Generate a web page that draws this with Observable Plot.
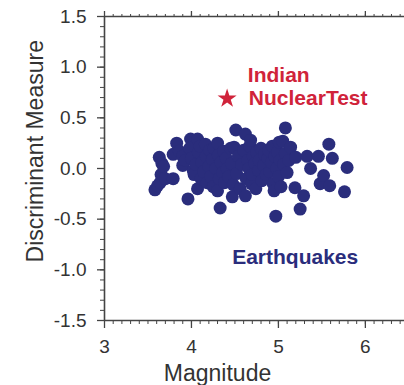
<!DOCTYPE html>
<html>
<head>
<meta charset="utf-8">
<script src="https://cdn.jsdelivr.net/npm/d3@7"></script>
<script src="https://cdn.jsdelivr.net/npm/@observablehq/plot@0.6"></script>
<style>
  html, body { margin: 0; padding: 0; background: #fff; }
  svg { display: block; }
</style>
</head>
<body>
<div id="chart"></div>
<script>
// Earthquake events: magnitude and discriminant measure
const magnitude = [
  3.58,3.61,3.63,3.65,3.66,3.68,3.64,3.70,3.79,3.79,3.83,3.86,3.90,3.90,3.93,3.96,3.99,3.98,4.00,4.02,
  4.03,4.05,4.07,4.07,4.08,4.10,4.11,4.12,4.14,4.16,4.17,4.18,4.20,4.21,4.22,4.24,4.25,4.26,4.28,4.30,
  4.30,4.31,4.32,4.33,4.34,4.36,4.37,4.38,4.40,4.41,4.43,4.45,4.46,4.47,4.48,4.49,4.51,4.52,4.54,4.56,
  4.58,4.60,4.62,4.62,4.63,4.65,4.66,4.67,4.68,4.69,4.70,4.71,4.73,4.74,4.75,4.77,4.78,4.80,4.81,4.83,
  4.84,4.86,4.88,4.89,4.90,4.92,4.93,4.94,4.95,4.96,4.97,4.98,4.99,5.00,5.01,5.02,5.03,5.05,5.06,5.08,
  5.08,5.10,5.12,5.14,5.20,5.19,5.25,5.29,5.33,5.37,5.46,5.48,5.52,5.58,5.59,5.62,5.76,5.79
];
const discriminant = [
  -0.21,-0.17,0.11,-0.06,0.05,0.02,-0.14,-0.10,-0.10,0.14,0.25,0.17,0.12,0.03,0.08,-0.30,0.29,0.20,0.10,-0.02,
  -0.06,0.04,0.29,-0.20,0.16,0.22,-0.10,0.06,-0.03,0.24,0.12,-0.14,0.02,0.18,-0.08,0.09,-0.18,0.20,0.00,0.25,
  -0.22,0.13,-0.10,-0.39,0.06,-0.04,0.17,-0.14,0.10,0.00,-0.08,0.20,0.05,-0.28,-0.16,0.21,0.38,-0.05,0.12,-0.20,
  0.04,0.18,0.34,-0.27,-0.10,0.08,0.00,0.22,0.28,-0.15,-0.06,0.12,0.05,-0.20,0.16,-0.02,0.08,0.20,-0.12,0.03,
  0.14,-0.06,0.10,0.18,-0.03,0.06,0.22,-0.15,-0.22,0.12,-0.47,0.00,0.16,-0.08,0.26,0.08,-0.18,0.27,0.04,0.40,
  0.15,-0.04,0.08,0.21,0.11,-0.19,-0.40,-0.27,0.12,0.00,0.12,-0.15,-0.07,0.24,-0.17,0.10,-0.23,0.01
];

// Nuclear test event
const testMagnitude = [4.41];
const testDiscriminant = [0.69];

// Annotation labels
const labelText = ["Indian", "NuclearTest", "Earthquakes"];
const labelX = [4.648, 4.66, 4.468];
const labelY = [0.92, 0.69, -0.875];
const labelColor = ["#d0233a", "#d0233a", "#2a2d7c"];

// Ticks
const xMajor = [3, 4, 5, 6];
const yMajor = [-1.5, -1.0, -0.5, 0.0, 0.5, 1.0, 1.5];
const xMinor = d3.range(30, 65).map(d => d / 10);
const yMinor = d3.range(-15, 16).map(d => d / 10);

const quakes = magnitude.map((m, i) => ({m, d: discriminant[i]}));
const tests = testMagnitude.map((m, i) => ({m, d: testDiscriminant[i]}));
const labels = labelText.map((t, i) => ({t, x: labelX[i], y: labelY[i], c: labelColor[i]}));

const font = "'Liberation Sans', Arial, Helvetica, sans-serif";
const tickColor = "#444";
const textColor = "#333";

const chart = Plot.plot({
  width: 404,
  height: 385,
  marginLeft: 104,
  marginRight: 0,
  marginTop: 16,
  marginBottom: 65,
  style: {fontFamily: font, background: "#fff", overflow: "hidden"},
  x: {domain: [3, 6.45], axis: null},
  y: {domain: [-1.5, 1.5], axis: null},
  marks: [
    // minor ticks
    Plot.axisX({anchor: "bottom", ticks: xMinor, tickSize: 4, tickFormat: () => "", stroke: tickColor, strokeWidth: 1}),
    Plot.axisX({anchor: "top", ticks: xMinor, tickSize: 3, tickFormat: () => "", stroke: tickColor, strokeWidth: 1}),
    Plot.axisY({anchor: "left", ticks: yMinor, tickSize: 4, tickFormat: () => "", stroke: tickColor, strokeWidth: 1}),
    // major ticks with labels
    Plot.axisX({anchor: "bottom", ticks: xMajor, tickSize: 8, tickPadding: 11, tickFormat: d => String(d),
      fontSize: 19, fill: textColor, stroke: tickColor, strokeWidth: 1.3, label: null}),
    Plot.axisX({anchor: "top", ticks: xMajor, tickSize: 6, tickFormat: () => "", stroke: tickColor, strokeWidth: 1.3, label: null}),
    Plot.axisY({anchor: "left", ticks: yMajor, tickSize: 7, tickPadding: 11, tickFormat: d => d.toFixed(1),
      fontSize: 19, fill: textColor, stroke: tickColor, strokeWidth: 1.3, label: null}),
    // frame (top, bottom, left)
    Plot.ruleY([-1.5, 1.5], {stroke: tickColor, strokeWidth: 1.6}),
    Plot.ruleX([3], {stroke: tickColor, strokeWidth: 1.6}),
    // axis titles
    Plot.text(["Magnitude"], {x: 4.3, frameAnchor: "bottom", dy: 60, lineAnchor: "bottom",
      textAnchor: "middle", fontSize: 23, fill: textColor}),
    Plot.text(["Discriminant Measure"], {y: 0.17, frameAnchor: "left", dx: -69, rotate: -90,
      textAnchor: "middle", lineAnchor: "middle", fontSize: 23, fill: textColor}),
    // data
    Plot.dot(quakes, {x: "m", y: "d", r: 6.5, fill: "#2a2d7c", stroke: "none"}),
    Plot.dot(tests, {x: "m", y: "d", symbol: "star", r: 6, fill: "#d0233a", stroke: "none"}),
    // annotations
    Plot.text(labels, {x: "x", y: "y", text: "t", fill: "c", textAnchor: "start", lineAnchor: "middle",
      fontSize: 21, fontWeight: "bold"})
  ]
});
document.getElementById("chart").appendChild(chart);
</script>
</body>
</html>
